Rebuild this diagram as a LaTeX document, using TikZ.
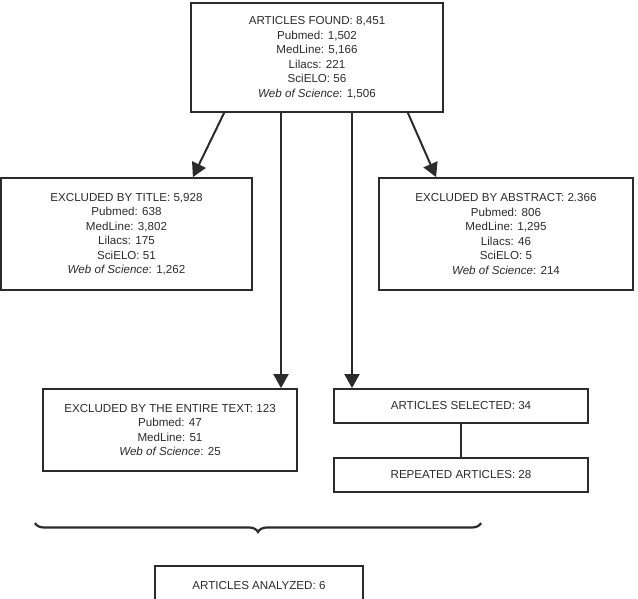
\documentclass[tikz,border=0pt]{standalone}
\usepackage{fontspec}
\setmainfont{Liberation Sans}
\usetikzlibrary{arrows.meta,decorations.pathreplacing,calc}
\definecolor{ink}{HTML}{2B2B2B}
\begin{document}
\begin{tikzpicture}[x=1pt,y=-1pt,
  box/.style={draw=ink,line width=1.8pt,text=ink,align=center,inner sep=0pt,
    font=\fontsize{11.6}{14.5}\selectfont},
  conn/.style={draw=ink,line width=2pt},
  arr/.style={conn,-{Triangle[length=14pt,width=15pt]}}]
\clip (0,0) rectangle (638,599);
\useasboundingbox (0,0) rectangle (638,599);
\node[box,minimum width=252pt,minimum height=109pt] (top) at (317,57.5)
  {ARTICLES FOUND: 8,451\\Pubmed: 1,502\\MedLine: 5,166\\Lilacs: 221\\SciELO: 56\\\textit{Web of Science}: 1,506};
\node[box,minimum width=251pt,minimum height=112pt] (title) at (126.5,234)
  {EXCLUDED BY TITLE: 5,928\\Pubmed: 638\\MedLine: 3,802\\Lilacs: 175\\SciELO: 51\\\textit{Web of Science}: 1,262};
\node[box,minimum width=254pt,minimum height=112pt] (abstract) at (506,234)
  {EXCLUDED BY ABSTRACT: 2.366\\Pubmed: 806\\MedLine: 1,295\\Lilacs: 46\\SciELO: 5\\\textit{Web of Science}: 214};
\node[box,minimum width=254pt,minimum height=82pt] (entire) at (170,430)
  {EXCLUDED BY THE ENTIRE TEXT: 123\\Pubmed: 47\\MedLine: 51\\\textit{Web of Science}: 25};
\node[box,minimum width=254pt,minimum height=34pt] (selected) at (461,406)
  {ARTICLES SELECTED: 34};
\node[box,minimum width=254pt,minimum height=34pt] (repeated) at (461,475)
  {REPEATED ARTICLES: 28};
\node[box,minimum width=208pt,minimum height=40pt] (analyzed) at (259,586)
  {ARTICLES ANALYZED: 6};
\draw[arr] ($(top.south west)+(34,0)$) -- ($(title.north east)+(-60,0)$);
\draw[arr] ($(top.south east)+(-36,0)$) -- ($(abstract.north west)+(58,0)$);
\coordinate (v1) at (281,0);
\coordinate (v2) at (352,0);
\draw[arr] (top.south -| v1) -- (entire.north -| v1);
\draw[arr] (top.south -| v2) -- (selected.north -| v2);
\draw[conn] (selected) -- (repeated);
\coordinate (b1) at (481,523);
\coordinate (b2) at (35,523);
\draw[conn,line width=2.2pt,decorate,decoration={brace,amplitude=9pt,aspect=0.5}] (b1) -- (b2);
\end{tikzpicture}
\end{document}
